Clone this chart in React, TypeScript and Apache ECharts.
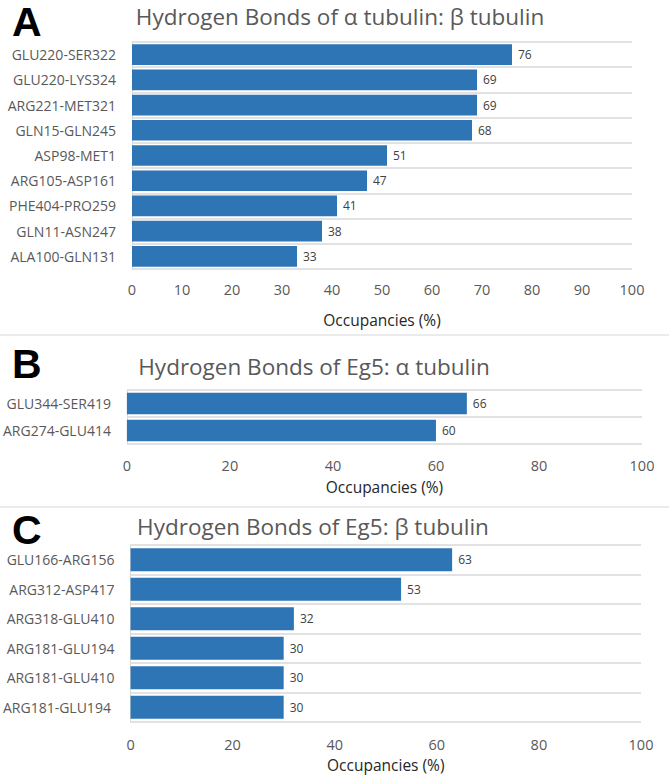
import React, { useEffect, useRef } from "react";
import * as echarts from "echarts";

const catsA = ["GLU220-SER322", "GLU220-LYS324", "ARG221-MET321", "GLN15-GLN245", "ASP98-MET1", "ARG105-ASP161", "PHE404-PRO259", "GLN11-ASN247", "ALA100-GLN131"];
const valsA = [76, 69, 69, 68, 51, 47, 41, 38, 33];
const catsB = ["GLU344-SER419", "ARG274-GLU414"];
const valsB = [66, 60];
const catsC = ["GLU166-ARG156", "ARG312-ASP417", "ARG318-GLU410", "ARG181-GLU194", "ARG181-GLU410", "ARG181-GLU194 "];
const valsC = [63, 53, 32, 30, 30, 30];
const titles = ["Hydrogen Bonds of α tubulin: β tubulin", "Hydrogen Bonds of Eg5: α tubulin", "Hydrogen Bonds of Eg5: β tubulin"];
const letters = ["A", "B", "C"];
const axisName = "Occupancies (%)";

const FONT = "'Open Sans', sans-serif";
const BLUE = "#2E75B6";
const GRID = "#D9D9D9";
const GRAY = "#595959";

export default function App() {
  const ref = useRef<HTMLDivElement>(null);
  useEffect(() => {
    if (!ref.current) return;
    const chart = echarts.init(ref.current, null, { renderer: "svg" });
    const grids = [
      { left: 132, right: 37, top: 42, height: 227 },
      { left: 124, right: 27, top: 390, height: 54 },
      { left: 123, right: 28, top: 545, height: 177 },
    ];
    const cats = [catsA, catsB, catsC];
    const vals = [valsA, valsB, valsC];
    const intervals = [10, 20, 20];
    const nameGaps = [43, 35, 35];
    const labelMargins = [13, 14, 15];
    const gaps = ["18%", "20%", "22%"];
    const titlePos = [
      { x: 340, y: 16 },
      { x: 314, y: 366 },
      { x: 313, y: 526 },
    ];
    const letterPos = [
      { x: 12, y: 22 },
      { x: 12, y: 364 },
      { x: 12, y: 530 },
    ];
    const option: any = {
      animation: false,
      backgroundColor: "#ffffff",
      grid: grids.map((g) => ({ ...g, containLabel: false })),
      xAxis: grids.map((_, i) => ({
        type: "value",
        gridIndex: i,
        min: 0,
        max: 100,
        interval: intervals[i],
        axisLine: { show: false },
        axisTick: { show: false },
        splitLine: { show: false },
        axisLabel: { color: GRAY, fontSize: 14.5, fontFamily: FONT, margin: labelMargins[i] },
        name: axisName,
        nameLocation: "middle",
        nameGap: nameGaps[i],
        nameTextStyle: { color: "#262626", fontSize: 15.5, fontFamily: FONT },
      })),
      yAxis: grids.map((_, i) => ({
        type: "category",
        gridIndex: i,
        inverse: true,
        data: cats[i],
        axisLine: { show: true, lineStyle: { color: GRID, width: 1 } },
        axisTick: { show: false },
        splitLine: { show: true, lineStyle: { color: GRID, width: 1.5 } },
        axisLabel: { color: GRAY, fontSize: 14, fontFamily: FONT, margin: 16 },
      })),
      series: grids.map((_, i) => ({
        type: "bar",
        xAxisIndex: i,
        yAxisIndex: i,
        data: vals[i],
        barCategoryGap: gaps[i],
        itemStyle: { color: BLUE },
        label: {
          show: true,
          position: "right",
          distance: 6,
          color: "#404040",
          fontSize: 12,
          fontFamily: FONT,
        },
      })),
      graphic: [
        { type: "rect", shape: { x: 0, y: 334, width: 669, height: 2 }, style: { fill: "#EBEBEB" } },
        { type: "rect", shape: { x: 0, y: 506, width: 669, height: 2 }, style: { fill: "#EBEBEB" } },
        ...titles.map((t, i) => ({
          type: "text",
          x: titlePos[i].x,
          y: titlePos[i].y,
          style: {
            text: t,
            fill: GRAY,
            font: `22.5px ${FONT}`,
            align: "center",
            verticalAlign: "middle",
          },
        })),
        ...letters.map((l, i) => ({
          type: "text",
          x: letterPos[i].x,
          y: letterPos[i].y,
          style: {
            text: l,
            fill: "#000000",
            font: `bold 41px 'Liberation Sans', Arial, sans-serif`,
            align: "left",
            verticalAlign: "middle",
          },
        })),
      ],
    };
    chart.setOption(option);
    return () => chart.dispose();
  }, []);
  return <div ref={ref} style={{ position: "absolute", left: 0, top: 0, width: 669, height: 779 }} />;
}
